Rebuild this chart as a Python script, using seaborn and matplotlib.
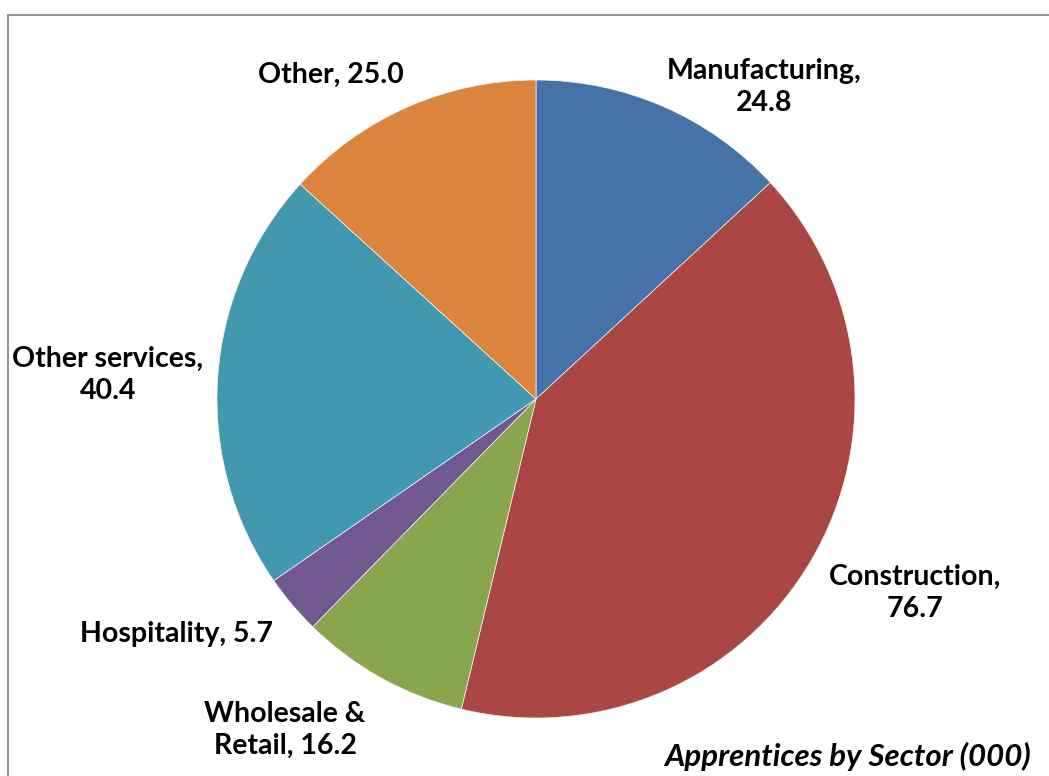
import matplotlib
matplotlib.use("Agg")
import matplotlib.pyplot as plt
from matplotlib.lines import Line2D
import seaborn as sns

# Apprentices by sector, thousands
sectors = ["Manufacturing", "Construction", "Wholesale &\nRetail", "Hospitality",
           "Other services", "Other"]
values = [24.8, 76.7, 16.2, 5.7, 40.4, 25.0]
colors = ["#4572A7", "#AA4643", "#89A54E", "#71588F", "#4198AF", "#DB843D"]
title = "Apprentices by Sector (000)"

sns.set_theme(style="white")
plt.rcParams["font.family"] = ["Lato", "DejaVu Sans"]

W, H = 1049, 776
fig = plt.figure(figsize=(W / 100, H / 100), dpi=100)
ax = fig.add_axes([0, 0, 1, 1])

palette = sns.color_palette(colors)
ax.pie(values, colors=palette, startangle=90, counterclock=False,
       center=(536, H - 399), radius=319,
       wedgeprops=dict(linewidth=0.5, edgecolor="#f4f4f4"))
ax.set_xlim(0, W)
ax.set_ylim(0, H)
ax.set_aspect("equal")
ax.axis("off")

# label layout: (text, x, y) in pixel space measured from top-left
label_text = [
    f"Manufacturing,\n{values[0]:.1f}",
    f"Construction,\n{values[1]:.1f}",
    f"Wholesale &\nRetail, {values[2]:.1f}",
    f"Hospitality, {values[3]:.1f}",
    f"Other services,\n{values[4]:.1f}",
    f"Other, {values[5]:.1f}",
]
label_pos = [(764, 87), (915, 593), (285, 730), (177, 634), (108, 375), (331, 75)]
for txt, (lx, ly) in zip(label_text, label_pos):
    ax.text(lx, H - ly, txt, ha="center", va="center", fontsize=20.5,
            fontweight="bold", color="black", linespacing=1.3)

ax.text(1031, H - 756, title, ha="right", va="center", fontsize=22.5,
        fontweight="bold", fontstyle="italic", color="black")

# chart area border (top and left edges visible)
fig.add_artist(Line2D([8 / W, 8 / W], [0, 1 - 15 / H], transform=fig.transFigure,
                      color="#8a8a8a", linewidth=1.3))
fig.add_artist(Line2D([8 / W, 1], [1 - 15 / H, 1 - 15 / H], transform=fig.transFigure,
                      color="#8a8a8a", linewidth=1.3))

fig.savefig("out.png", dpi=100, facecolor="white")
